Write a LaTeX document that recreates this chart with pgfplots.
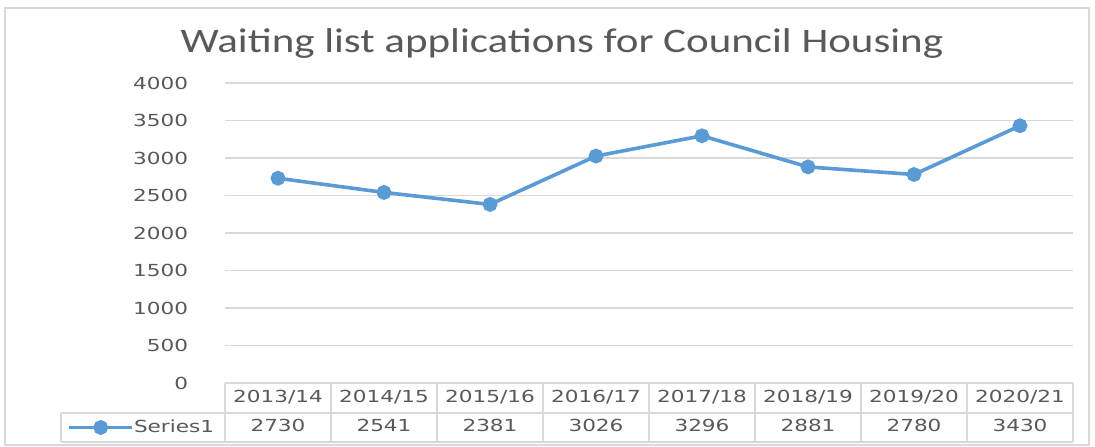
\documentclass[border=0pt]{standalone}
\usepackage{fontspec}
\setmainfont{DejaVu Sans}
\newfontfamily\titlefont{Carlito}
\usepackage{graphicx}
\usepackage{pgfplots}
\pgfplotsset{compat=1.18}
\definecolor{linecol}{RGB}{91,155,213}
\definecolor{txtcol}{RGB}{89,89,89}
\definecolor{gridcol}{RGB}{217,217,217}

\newcommand{\tabfont}{\fontsize{8.3}{10}\selectfont}

\begin{document}
\begin{tikzpicture}
% background and chart frame (1px = 0.5pt, origin = plot area bottom left)
\fill[white] (-112.5pt,-31.5pt) rectangle (435pt,191.5pt);
\draw[gridcol, line width=0.8pt] (-110pt,-31pt) rectangle (432pt,187.5pt);

\node[anchor=base, text=txtcol, font=\titlefont\fontsize{17.2}{20}\selectfont, xscale=1.25]
  at (168.5pt,165.5pt) {Waiting list applications for Council Housing};

\begin{axis}[
  at={(0pt,0pt)}, anchor=south west,
  scale only axis, width=424pt, height=150pt,
  xmin=-0.5, xmax=7.5, ymin=0, ymax=4000,
  ytick={0,500,...,4000},
  /pgf/number format/assume math mode=true,
  /pgf/number format/1000 sep={},
  xtick={0,...,7},
  xticklabels={2013/14,2014/15,2015/16,2016/17,2017/18,2018/19,2019/20,2020/21},
  extra x ticks={0,...,7},
  extra x tick labels={2730,2541,2381,3026,3296,2881,2780,3430},
  extra x tick style={grid=none, xticklabel style={yshift=-14.5pt}},
  ymajorgrids, grid style={gridcol, line width=0.6pt},
  axis line style={draw=none}, major tick length=0pt,
  tick label style={font=\tabfont, text=txtcol, xscale=1.3},
  yticklabel style={anchor=east, inner sep=0pt, xshift=-14pt},
  xticklabel style={anchor=base, inner sep=0pt, yshift=-9.5pt},
  legend style={at={(axis description cs:-0.1863,-0.1483)}, anchor=west,
    draw=none, fill=none, inner sep=0pt, font=\tabfont, text=txtcol},
  legend cell align=left,
  legend image code/.code={
    \draw[mark repeat=2, mark phase=2] plot coordinates {(0pt,0pt) (15.75pt,0pt) (31.5pt,0pt)};
  },
  clip=false,
]
\addplot[linecol, line width=1.8pt, mark=*, mark size=2.8pt,
  mark options={fill=linecol, draw=linecol}] coordinates {
  (0,2730) (1,2541) (2,2381) (3,3026) (4,3296) (5,2881) (6,2780) (7,3430)
};
\addlegendentry{\hspace{-2pt}\scalebox{1.3}[1]{Series1}}
\end{axis}

% data table grid (top edge is the 0 gridline)
\begin{scope}[gridcol, line width=0.6pt]
  \draw (-82pt,-15pt) -- (424pt,-15pt);
  \draw (-82pt,-29.5pt) -- (424pt,-29.5pt);
  \draw (-82pt,-15pt) -- (-82pt,-29.5pt);
  \foreach \k in {0,...,8} {
    \draw (\k*53pt,0pt) -- (\k*53pt,-29.5pt);
  }
\end{scope}
\end{tikzpicture}
\end{document}
